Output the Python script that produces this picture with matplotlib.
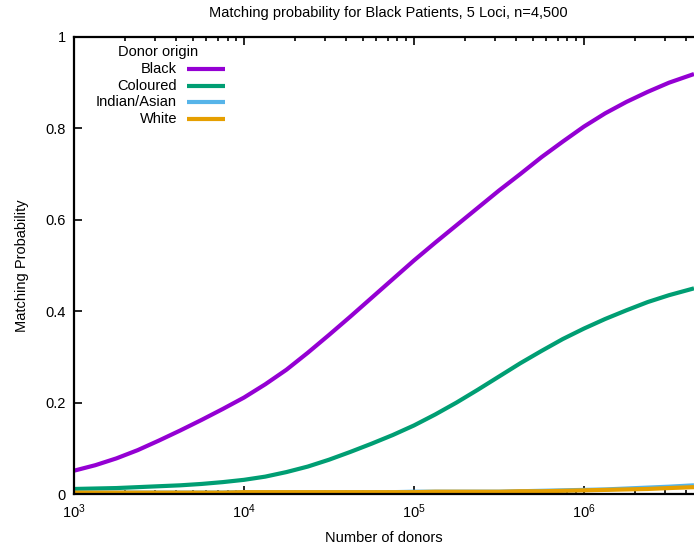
import numpy as np
import matplotlib
matplotlib.use("Agg")
import matplotlib.pyplot as plt
from matplotlib.ticker import LogLocator, FixedLocator, FixedFormatter

plt.rcParams['font.family'] = ['Liberation Sans', 'DejaVu Sans']
plt.rcParams['mathtext.fontset'] = 'custom'
plt.rcParams['mathtext.rm'] = 'Liberation Sans'
plt.rcParams['mathtext.it'] = 'Liberation Sans'

# donors, read at eighth decades; last point is the right edge of the picture
donors = [1000, 1334, 1778, 2371, 3162, 4217, 5623, 7499,
          10000, 13335, 17783, 23714, 31623, 42170, 56234, 74989,
          100000, 133352, 177828, 237137, 316228, 421697, 562341, 749894,
          1000000, 1333521, 1778279, 2371374, 3162278, 4440000]
black = [0.051, 0.063, 0.078, 0.096, 0.117, 0.139, 0.162, 0.186,
         0.211, 0.240, 0.272, 0.309, 0.348, 0.388, 0.429, 0.470,
         0.511, 0.550, 0.588, 0.626, 0.664, 0.700, 0.737, 0.771,
         0.804, 0.833, 0.858, 0.880, 0.900, 0.919]
coloured = [0.011, 0.012, 0.013, 0.015, 0.017, 0.019, 0.022, 0.026,
            0.031, 0.038, 0.048, 0.060, 0.075, 0.092, 0.110, 0.129,
            0.150, 0.174, 0.200, 0.228, 0.257, 0.286, 0.313, 0.339,
            0.362, 0.383, 0.402, 0.420, 0.435, 0.450]
indian = [0.003, 0.003, 0.003, 0.003, 0.003, 0.003, 0.003, 0.003,
          0.004, 0.004, 0.004, 0.004, 0.004, 0.004, 0.004, 0.004,
          0.005, 0.005, 0.005, 0.005, 0.005, 0.006, 0.007, 0.008,
          0.009, 0.010, 0.012, 0.014, 0.016, 0.019]
white = [0.003, 0.003, 0.003, 0.003, 0.003, 0.003, 0.003, 0.003,
         0.004, 0.004, 0.004, 0.004, 0.004, 0.004, 0.004, 0.004,
         0.004, 0.005, 0.005, 0.005, 0.005, 0.006, 0.006, 0.007,
         0.008, 0.009, 0.010, 0.011, 0.013, 0.015]

series = [("Black", black, "#9400D3"),
          ("Coloured", coloured, "#009E73"),
          ("Indian/Asian", indian, "#56B4E9"),
          ("White", white, "#E69F00")]

W, H = 694, 548
fig = plt.figure(figsize=(W / 100, H / 100), dpi=100)
# plot area is cut at the right border, like the original picture
ax = fig.add_axes([74 / W, 54 / H, 620 / W, 457 / H])

for name, vals, col in series:
    ax.plot(donors, vals, color=col, lw=3, solid_capstyle="butt")

ax.set_xscale("log")
ax.set_xlim(donors[0], donors[-1])
ax.set_ylim(0, 1)
ax.xaxis.set_major_locator(LogLocator(base=10, numticks=10))
ax.xaxis.set_minor_locator(LogLocator(base=10, subs=np.arange(2, 10), numticks=20))
ax.yaxis.set_major_locator(FixedLocator([0, 0.2, 0.4, 0.6, 0.8, 1]))
ax.yaxis.set_major_formatter(FixedFormatter(["0", "0.2", "0.4", "0.6", "0.8", "1"]))
ax.tick_params(which="both", direction="in", top=True, right=False,
               labelsize=10.5, width=1.2, colors="black")
ax.tick_params(which="major", length=6, pad=6)
ax.tick_params(which="minor", length=3)
ax.spines["right"].set_visible(False)
for s in ax.spines.values():
    s.set_linewidth(1.6)

ax.set_xlabel("Number of donors", fontsize=10.5, labelpad=7)
ax.set_ylabel("Matching Probability", fontsize=10.5, labelpad=12)
fig.text(388 / W, 1 - 13 / H, "Matching probability for Black Patients, 5 Loci, n=4,500",
         ha="center", va="center", fontsize=10.5)

# gnuplot style key: right aligned text, sample line on the right
def to_ax(px, py):
    return (px - 74) / 620, (494 - py) / 457

tx, ty = to_ax(158, 52)
ax.text(tx, ty, "Donor origin", transform=ax.transAxes, ha="center",
        va="center", fontsize=10.5)
for i, (name, vals, col) in enumerate(series):
    py = 69 + i * 16.6
    x0, y0 = to_ax(177, py)
    ax.text(x0, y0, name, transform=ax.transAxes, ha="right", va="center",
            fontsize=10.5)
    xa, _ = to_ax(187, py)
    xb, _ = to_ax(225, py)
    ax.plot([xa, xb], [y0, y0], transform=ax.transAxes, color=col, lw=3,
            solid_capstyle="butt", clip_on=False)

fig.savefig("out.png", dpi=100)
